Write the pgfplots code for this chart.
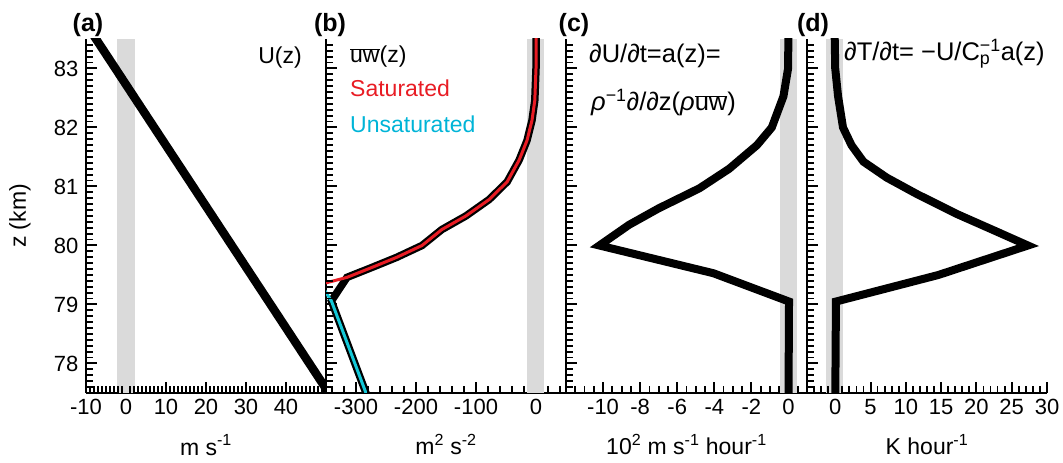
\documentclass[border=0pt]{standalone}
\usepackage{fontspec}
\setmainfont{Liberation Sans}
\usepackage{pgfplots}
\pgfplotsset{compat=1.18}
\definecolor{band}{RGB}{218,218,218}
\definecolor{satred}{RGB}{232,28,36}
\definecolor{unsatcyan}{RGB}{0,180,215}
\definecolor{linecyan}{RGB}{20,200,215}
\newcommand{\tf}{\fontsize{22}{26}\selectfont}
\newcommand{\lf}{\fontsize{23}{27}\selectfont}
\newcommand{\ff}{\fontsize{25.5}{30}\selectfont}
\pgfplotsset{
 panel/.style={
  scale only axis, width=240pt, height=354pt,
  anchor=south west,
  axis x line=bottom, axis y line=left,
  axis line style={line width=2pt,-},
  tick align=inside,
  major tick length=11pt,
  tick style={line width=2pt, black},
  ymin=77.5, ymax=83.5,
  ytick={78,79,80,81,82,83},
  yticklabels={},
  tick label style={font=\tf},
  xticklabel style={yshift=-3pt},
  yticklabel style={xshift=-4pt},
  every axis x label/.style={at={(axis description cs:0.5,0)},anchor=base,yshift=-62pt,font=\lf},
 },
 ticksonly/.style={
  scale only axis, width=240pt, height=354pt,
  anchor=south west,
  axis x line=bottom, axis y line=left,
  axis line style={draw=none},
  tick align=inside,
  major tick length=6.5pt,
  tick style={line width=1.8pt, black},
  ymin=77.5, ymax=83.5,
  ytick={77.6,77.7,77.8,77.9,78.1,78.2,78.3,78.4,78.5,78.6,78.7,78.8,78.9,
   79.1,79.2,79.3,79.4,79.5,79.6,79.7,79.8,79.9,80.1,80.2,80.3,80.4,80.5,80.6,80.7,80.8,80.9,
   81.1,81.2,81.3,81.4,81.5,81.6,81.7,81.8,81.9,82.1,82.2,82.3,82.4,82.5,82.6,82.7,82.8,82.9,
   83.1,83.2,83.3,83.4},
  xticklabels={}, yticklabels={},
 }
}
\begin{document}
\begin{tikzpicture}[x=1pt,y=1pt]
\useasboundingbox (0,0) rectangle (1063,463);
% (a)
\begin{axis}[panel, at={(86pt,70pt)}, xmin=-10, xmax=50,
  xtick={-10,0,10,20,30,40}, xticklabels={-10,0,10,20,30,40},
  yticklabels={78,79,80,81,82,83},
  xlabel={m s\textsuperscript{-1}}]
\addplot[draw=none, fill=band] coordinates {(-2.2,77.5) (2.2,77.5) (2.2,83.5) (-2.2,83.5)};
\addplot[black, line width=8.5pt] coordinates {(-9.44,83.7) (51.67,77.4)};
\end{axis}
\begin{axis}[ticksonly, at={(86pt,70pt)}, xmin=-10, xmax=50,
  xtick={-9,-8,-7,-6,-5,-4,-3,-2,-1,1,2,3,4,5,6,7,8,9,11,12,13,14,15,16,17,18,19,
   21,22,23,24,25,26,27,28,29,31,32,33,34,35,36,37,38,39,41,42,43,44,45,46,47,48,49}]
\end{axis}
% (b)
\begin{axis}[panel, at={(326pt,70pt)}, xmin=-350, xmax=50,
  xtick={-300,-200,-100,0}, xticklabels={-300,-200,-100,0},
  xlabel={m\textsuperscript{2} s\textsuperscript{-2}}]
\addplot[draw=none, fill=band] coordinates {(-15,77.5) (14,77.5) (14,83.5) (-15,83.5)};
\addplot[black, line width=7.5pt] coordinates {
 (0,83.7) (0,83.0) (-2,82.46) (-6.7,82.12) (-15,81.78) (-28,81.45) (-48,81.08)
 (-78,80.78) (-117,80.5) (-157,80.27) (-190,80.0) (-232,79.8) (-273,79.63)
 (-315,79.46) (-341,79.06) (-276,77.3)};
\addplot[satred, line width=3pt] coordinates {
 (0,83.7) (0,83.0) (-2,82.46) (-6.7,82.12) (-15,81.78) (-28,81.45) (-48,81.08)
 (-78,80.78) (-117,80.5) (-157,80.27) (-190,80.0) (-232,79.8) (-273,79.63)
 (-315,79.46) (-360,79.34)};
\addplot[linecyan, line width=3pt] coordinates {(-356,79.3) (-341,79.06) (-276,77.3)};
\end{axis}
\begin{axis}[ticksonly, at={(326pt,70pt)}, xmin=-350, xmax=50,
  xtick={-340,-320,-280,-260,-240,-220,-180,-160,-140,-120,-80,-60,-40,-20,20,40}]
\end{axis}
% (c)
\begin{axis}[panel, at={(566pt,70pt)}, width=241pt, xmin=-12, xmax=1,
  xtick={-10,-8,-6,-4,-2,0}, xticklabels={-10,-8,-6,-4,-2,0},
  xlabel={10\textsuperscript{2} m s\textsuperscript{-1} hour\textsuperscript{-1}}]
\addplot[draw=none, fill=band] coordinates {(-0.45,77.5) (0.47,77.5) (0.47,83.5) (-0.45,83.5)};
\addplot[black, line width=8pt] coordinates {
 (0,83.7) (-0.02,83.0) (-0.27,82.53) (-0.9,82.0) (-1.7,81.7) (-3.2,81.3)
 (-4.8,80.97) (-7.0,80.63) (-8.6,80.35) (-10.2,80.0) (-4.05,79.53) (0.03,79.05) (0,77.3)};
\end{axis}
\begin{axis}[ticksonly, at={(566pt,70pt)}, width=241pt, xmin=-12, xmax=1,
  xtick={-11.5,-11,-10.5,-9.5,-9,-8.5,-7.5,-7,-6.5,-5.5,-5,-4.5,-3.5,-3,-2.5,-1.5,-1,-0.5,0.5}]
\end{axis}
% (d)
\begin{axis}[panel, at={(807pt,70pt)}, xmin=-4, xmax=30,
  xtick={0,5,10,15,20,25,30}, xticklabels={0,5,10,15,20,25,30},
  xlabel={K hour\textsuperscript{-1}}]
\addplot[draw=none, fill=band] coordinates {(-1.3,77.5) (1.1,77.5) (1.1,83.5) (-1.3,83.5)};
\addplot[black, line width=8pt] coordinates {
 (-0.1,83.7) (0,83.0) (0.4,82.53) (1.1,82.0) (2.3,81.7) (4.0,81.42) (7.3,81.15)
 (11.6,80.87) (17.3,80.53) (22.6,80.25) (27.3,80.0) (14.6,79.5) (0.1,79.05) (0,77.3)};
\end{axis}
\begin{axis}[ticksonly, at={(807pt,70pt)}, xmin=-4, xmax=30,
  xtick={-3,-2,-1,1,2,3,4,6,7,8,9,11,12,13,14,16,17,18,19,21,22,23,24,26,27,28,29}]
\end{axis}
% panel letters
\node[anchor=base, font=\fontsize{25}{30}\selectfont\bfseries] at (88,431) {(a)};
\node[anchor=base, font=\fontsize{25}{30}\selectfont\bfseries] at (330,431) {(b)};
\node[anchor=base, font=\fontsize{25}{30}\selectfont\bfseries] at (574,431) {(c)};
\node[anchor=base, font=\fontsize{25}{30}\selectfont\bfseries] at (813,431) {(d)};
% y label
\node[rotate=90, font=\lf] at (20,247) {z (km)};
% titles
\node[anchor=base east, font=\lf, inner sep=0pt] at (302,399) {U(z)};
\node[anchor=base west, font=\lf, inner sep=0pt] at (350,400) {$\overline{\mbox{uw}}$(z)};
\node[anchor=base west, font=\lf, inner sep=0pt, text=satred] at (350,366) {Saturated};
\node[anchor=base west, font=\lf, inner sep=0pt, text=unsatcyan] at (350,330) {Unsaturated};
\node[anchor=base west, font=\ff, inner sep=0pt] at (589,400) {∂U/∂t=a(z)=};
\node[anchor=base west, font=\ff, inner sep=0pt] at (591,352) {\textit{ρ}\textsuperscript{−1}∂/∂z(\textit{ρ}$\overline{\mbox{uw}}$)};
\node[anchor=base west, font=\ff, inner sep=0pt] at (844,402) {∂T/∂t= −U/C\rlap{\textsubscript{p}}\textsuperscript{−1}a(z)};
\end{tikzpicture}
\end{document}
